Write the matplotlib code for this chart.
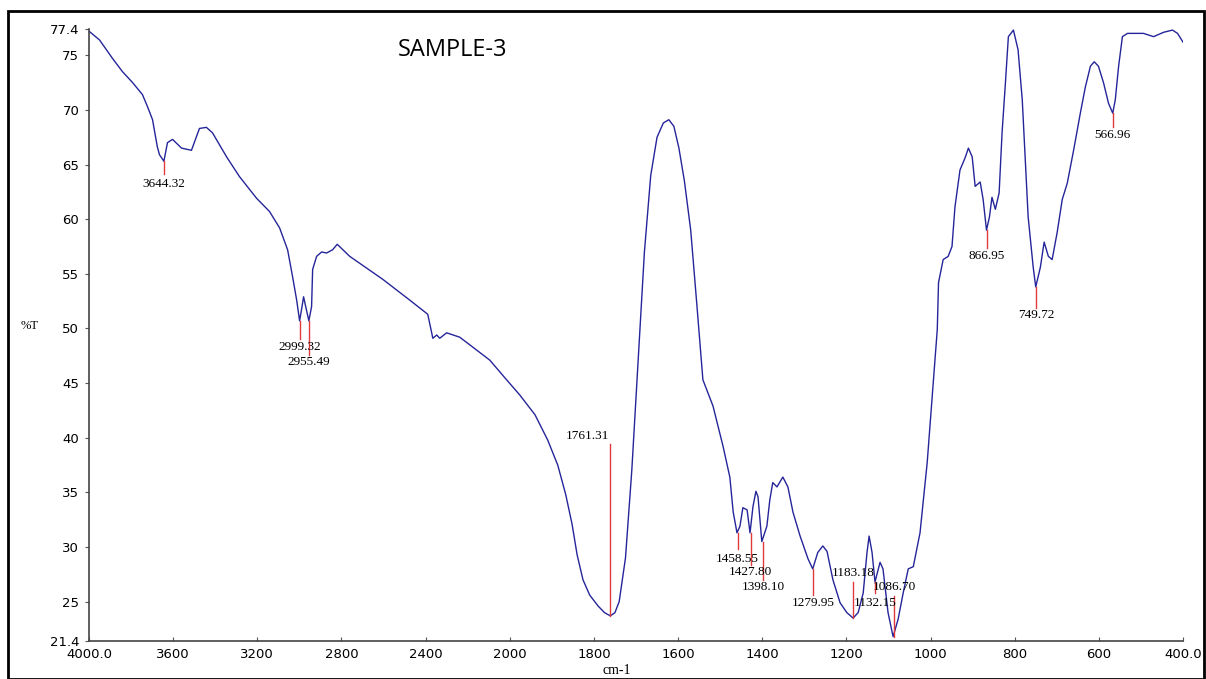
import numpy as np
import matplotlib
matplotlib.use("Agg")
import matplotlib.pyplot as plt
from matplotlib.patches import Rectangle

# ---------- data ----------
wavenumber = [
    4000, 3950, 3888, 3841, 3793, 3746, 3722, 3698, 3675, 3665, 3651, 3644,
    3636, 3627, 3603, 3560, 3513, 3475, 3442, 3413, 3346, 3285, 3203, 3142,
    3094, 3056, 3032, 3013, 2999, 2990, 2980, 2970, 2955, 2942, 2937, 2918,
    2894, 2871, 2842, 2820, 2761, 2604, 2476, 2390, 2371, 2366, 2347, 2333,
    2300, 2238, 2190, 2095, 2024, 1976, 1940, 1910, 1886, 1867, 1852, 1840,
    1826, 1810, 1790, 1775, 1761, 1750, 1740, 1725, 1710, 1695, 1680, 1665,
    1650, 1635, 1622, 1610, 1598, 1585, 1570, 1555, 1541, 1517, 1493, 1477,
    1469, 1460, 1453, 1446, 1436, 1429, 1422, 1415, 1410, 1401, 1389, 1382,
    1375, 1365, 1351, 1339, 1327, 1310, 1291, 1280, 1268, 1256, 1246, 1232,
    1215, 1199, 1184, 1172, 1160, 1151, 1146, 1139, 1132, 1120, 1113, 1101,
    1089, 1077, 1065, 1053, 1041, 1025, 1008, 996, 984, 981, 970, 958, 949,
    942, 930, 918, 910, 901, 894, 882, 875, 867, 860, 854, 846, 837, 830,
    822, 815, 803, 792, 782, 768, 756, 750, 739, 730, 720, 711, 699, 687,
    675, 660, 644, 632, 620, 611, 601, 589, 577, 567, 561, 553, 544, 532,
    494, 470, 446, 425, 413, 400,
]
transmittance = [
    77.2, 76.4, 74.7, 73.5, 72.5, 71.4, 70.3, 69.1, 66.6, 65.9, 65.5, 65.3,
    66.1, 67.0, 67.3, 66.5, 66.3, 68.3, 68.4, 67.9, 65.7, 63.9, 61.9, 60.7,
    59.2, 57.2, 54.7, 52.6, 50.7, 51.7, 52.9, 52.0, 50.7, 52.0, 55.4, 56.6,
    57.0, 56.9, 57.2, 57.7, 56.6, 54.5, 52.6, 51.3, 49.6, 49.1, 49.4, 49.1,
    49.6, 49.2, 48.5, 47.1, 45.5, 43.9, 42.1, 39.8, 37.5, 34.8, 32.1, 29.3,
    27.0, 25.6, 24.6, 24.0, 23.7, 24.0, 25.0, 29.0, 37.0, 47.0, 57.0, 64.0,
    67.5, 68.8, 69.1, 68.5, 66.5, 63.5, 59.0, 52.0, 45.3, 42.9, 39.2, 36.4,
    33.2, 31.3, 31.9, 33.6, 33.4, 31.3, 33.7, 35.1, 34.6, 30.5, 31.9, 34.3,
    35.9, 35.5, 36.4, 35.5, 33.2, 31.0, 28.9, 28.0, 29.5, 30.1, 29.6, 27.0,
    24.9, 24.0, 23.5, 24.0, 25.8, 29.5, 31.0, 29.5, 26.8, 28.6, 28.0, 24.0,
    21.8, 23.4, 25.8, 28.0, 28.2, 31.3, 37.7, 43.8, 49.9, 54.2, 56.3, 56.6,
    57.5, 61.1, 64.5, 65.6, 66.5, 65.7, 63.0, 63.4, 61.8, 59.0, 60.2, 62.0,
    60.9, 62.4, 67.9, 72.5, 76.7, 77.3, 75.5, 70.9, 60.2, 55.6, 53.8, 55.6,
    57.9, 56.6, 56.3, 58.8, 61.8, 63.3, 66.3, 69.7, 72.1, 74.0, 74.4, 74.0,
    72.5, 70.6, 69.7, 70.9, 74.0, 76.7, 77.0, 77.0, 76.7, 77.1, 77.3, 77.0,
    76.2,
]

# peak picks: position, curve value, end of the red marker, label centre
peak_wn = [3644.32, 2999.32, 2955.49, 1761.31, 1458.55, 1427.80, 1398.10,
           1279.95, 1183.18, 1132.15, 1086.70, 866.95, 749.72, 566.96]
peak_tip = [65.3, 50.7, 50.7, 23.7, 31.3, 31.3, 30.5,
            28.0, 23.5, 26.8, 21.8, 59.0, 53.8, 69.7]
peak_end = [64.1, 49.0, 47.6, 39.4, 29.8, 28.4, 27.0,
            25.6, 26.8, 25.8, 25.5, 57.4, 51.9, 68.4]
peak_text_y = [63.2, 48.3, 46.9, 40.2, 28.9, 27.7, 26.3,
               24.9, 27.6, 24.9, 26.3, 56.6, 51.2, 67.7]
peak_text_x = [3644.32, 2999.32, 2955.49, 1815.0, 1458.55, 1427.80, 1398.10,
               1279.95, 1183.18, 1132.15, 1086.70, 866.95, 749.72, 566.96]

x_ticks = [4000, 3600, 3200, 2800, 2400, 2000, 1800, 1600, 1400, 1200,
           1000, 800, 600, 400]
x_tick_labels = ["4000.0", "3600", "3200", "2800", "2400", "2000", "1800",
                 "1600", "1400", "1200", "1000", "800", "600", "400.0"]
y_ticks = [21.4, 25, 30, 35, 40, 45, 50, 55, 60, 65, 70, 75, 77.4]
y_tick_labels = ["21.4", "25", "30", "35", "40", "45", "50", "55", "60",
                 "65", "70", "75", "77.4"]


# spectrometer style axis: 2x expansion below 2000 cm-1
def fwd(x):
    x = np.asarray(x, dtype=float)
    return np.where(x > 2000, 2000 + (x - 2000) / 2.0, x)


def inv(y):
    y = np.asarray(y, dtype=float)
    return np.where(y > 2000, 2000 + (y - 2000) * 2.0, y)


fig = plt.figure(figsize=(12.06, 6.79), dpi=100)
ax = fig.add_axes([89 / 1206, 1 - 641 / 679, (1183 - 89) / 1206, (641 - 29) / 679])

ax.set_xscale("function", functions=(fwd, inv))
ax.plot(wavenumber, transmittance, color="#25259a", linewidth=1.0)

# red peak markers + labels
for wn, tip, end, tx, ty in zip(peak_wn, peak_tip, peak_end, peak_text_x, peak_text_y):
    ax.plot([wn, wn], [tip, end], color="#e03a3a", linewidth=1.0)
    ax.text(tx, ty, f"{wn:.2f}", ha="center", va="center", fontsize=9.5,
            family="Liberation Serif", color="black")

ax.set_xlim(4000, 400)
ax.set_ylim(21.4, 77.4)
ax.set_xticks(x_ticks)
ax.set_xticklabels(x_tick_labels)
ax.set_yticks(y_ticks)
ax.set_yticklabels(y_tick_labels)
ax.minorticks_off()
ax.tick_params(axis="x", direction="in", length=3, labelsize=9.5, pad=5,
               color="#555555")
ax.tick_params(axis="y", direction="out", length=3, labelsize=9.5, pad=4,
               color="#555555")

for side in ["top", "right"]:
    ax.spines[side].set_visible(False)
for side in ["left", "bottom"]:
    ax.spines[side].set_color("#444444")
    ax.spines[side].set_linewidth(1.2)

fig.text(30 / 1206, 1 - 326 / 679, "%T", fontsize=9, family="Liberation Serif",
         ha="center", va="center")
fig.text(617 / 1206, 1 - 671 / 679, "cm-1", fontsize=10, family="Liberation Serif",
         ha="center", va="center")
fig.text(453 / 1206, 1 - 50 / 679, "SAMPLE-3", fontsize=17, family="Open Sans",
         ha="center", va="center")

# black frame around the picture
fig.patches.append(Rectangle((8 / 1206, 0), 1196 / 1206, 1 - 11 / 679,
                             transform=fig.transFigure, fill=False,
                             edgecolor="black", linewidth=2))

fig.savefig("out.png", dpi=100)
